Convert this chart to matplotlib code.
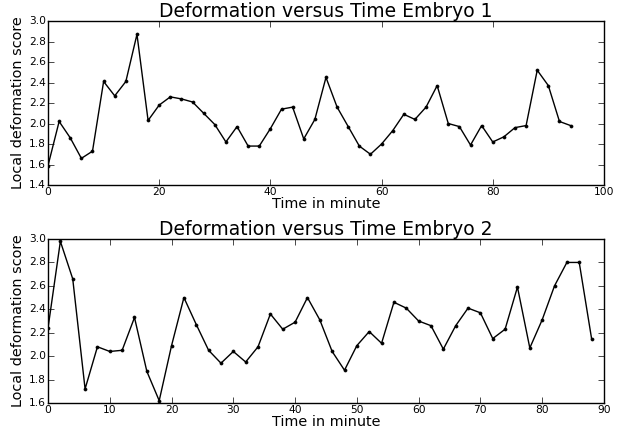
import matplotlib
matplotlib.use("Agg")
import matplotlib.pyplot as plt

# Embryo 1: one sample every 2 minutes
time_1 = list(range(0, 96, 2))
score_1 = [1.59, 2.02, 1.86, 1.66, 1.73, 2.41, 2.27, 2.41, 2.87, 2.03,
           2.18, 2.26, 2.24, 2.21, 2.10, 1.99, 1.82, 1.97, 1.78, 1.78,
           1.95, 2.14, 2.16, 1.85, 2.04, 2.45, 2.16, 1.97, 1.78, 1.70,
           1.80, 1.93, 2.09, 2.04, 2.16, 2.37, 2.00, 1.97, 1.79, 1.98,
           1.82, 1.87, 1.96, 1.98, 2.52, 2.37, 2.02, 1.98]

# Embryo 2
time_2 = list(range(0, 90, 2))
score_2 = [2.24, 2.98, 2.66, 1.72, 2.08, 2.04, 2.05, 2.33, 1.87, 1.62,
           2.09, 2.50, 2.27, 2.05, 1.94, 2.04, 1.95, 2.08, 2.36, 2.23,
           2.29, 2.50, 2.31, 2.04, 1.88, 2.09, 2.21, 2.11, 2.46, 2.41,
           2.30, 2.26, 2.06, 2.26, 2.41, 2.37, 2.15, 2.23, 2.59, 2.07,
           2.31, 2.60, 2.80, 2.80, 2.15]

plt.style.use("classic")

fig = plt.figure(figsize=(6.31, 4.38), dpi=100, facecolor="white")
ax1 = fig.add_axes([0.0761, 0.5776, 0.881, 0.3744])
ax2 = fig.add_axes([0.0761, 0.0799, 0.881, 0.3744])

panels = [
    (ax1, time_1, score_1, "Deformation versus Time Embryo 1", (0, 100), (1.4, 3.0)),
    (ax2, time_2, score_2, "Deformation versus Time Embryo 2", (0, 90), (1.6, 3.0)),
]

for ax, t, s, title, xlim, ylim in panels:
    ax.plot(t, s, color="black", linestyle="-", linewidth=1.0,
            marker="o", markersize=2.2, markeredgecolor="black")
    ax.set_xlim(*xlim)
    ax.set_ylim(*ylim)
    ax.set_title(title, fontsize=13.5, pad=3)
    ax.set_xlabel("Time in minute", fontsize=10.4, labelpad=0)
    ax.set_ylabel("Local deformation score", fontsize=10.4, labelpad=3)
    ax.tick_params(labelsize=7.7, pad=1.5)

fig.savefig("out.png", dpi=100, facecolor="white")
